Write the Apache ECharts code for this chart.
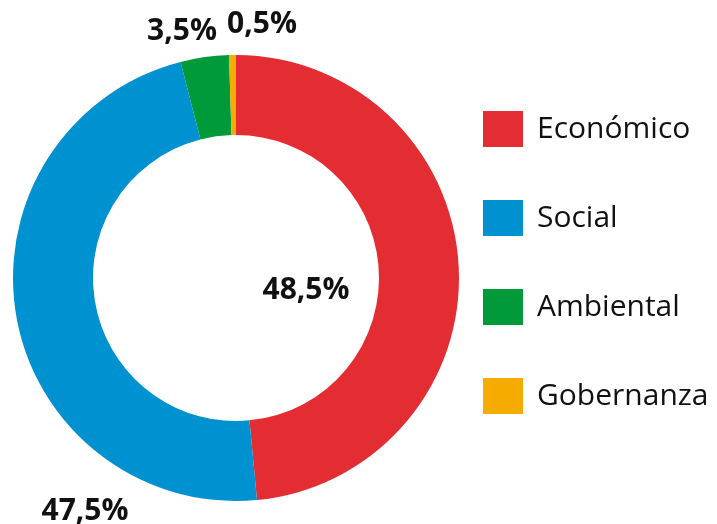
<!DOCTYPE html>
<html>
<head>
<meta charset="utf-8">
<script src="https://cdn.jsdelivr.net/npm/echarts@6/dist/echarts.min.js"></script>
<style>
  html, body { margin: 0; padding: 0; background: #fff; }
  #chart { width: 717px; height: 524px; }
</style>
</head>
<body>
<div id="chart"></div>
<script>
// Distribution by dimension (percent)
const categories = ['Económico', 'Social', 'Ambiental', 'Gobernanza'];
const values = [48.5, 47.5, 3.5, 0.5];
const colors = ['#E32D33', '#0091D1', '#009A3A', '#F5AB00'];
// Where each percentage label sits
const labelSpots = [[306, 290], [85, 511], [182, 31], [262, 24]];

const chart = echarts.init(document.getElementById('chart'));
chart.setOption({
  animation: false,
  legend: {
    orient: 'vertical',
    left: 483,
    top: 111,
    padding: 0,
    itemWidth: 40,
    itemHeight: 36,
    itemGap: 53,
    icon: 'rect',
    textStyle: { fontFamily: 'Open Sans', fontSize: 30, color: '#111', padding: [0, 0, 0, 9] },
    data: categories
  },
  series: [{
    type: 'pie',
    center: [236, 278],
    radius: [143, 223],
    startAngle: 90,
    clockwise: true,
    avoidLabelOverlap: false,
    label: {
      show: true,
      position: 'outside',
      formatter: p => p.value.toFixed(1).replace('.', ',') + '%',
      fontFamily: 'Open Sans',
      fontWeight: 'bold',
      fontSize: 30,
      color: '#111'
    },
    labelLine: { show: false },
    labelLayout: p => ({
      x: labelSpots[p.dataIndex][0],
      y: labelSpots[p.dataIndex][1],
      align: 'center',
      verticalAlign: 'middle'
    }),
    emphasis: { disabled: true },
    data: categories.map((c, i) => ({ name: c, value: values[i], itemStyle: { color: colors[i] } }))
  }]
});
</script>
</body>
</html>
